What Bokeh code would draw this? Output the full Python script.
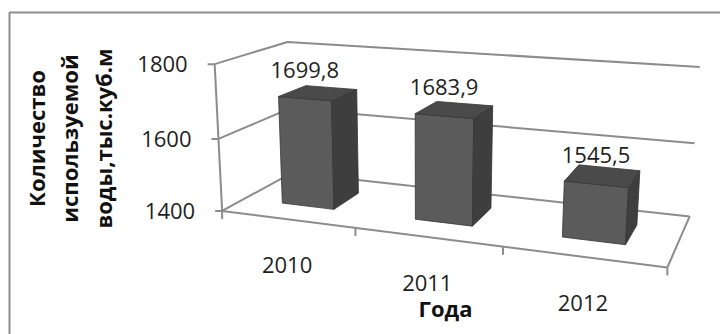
import numpy as np
from bokeh.plotting import figure
from bokeh.models import Range1d
from bokeh.core.properties import value
from bokeh.embed import file_html
from bokeh.resources import INLINE

# ---- data -------------------------------------------------------------
years = ["2010", "2011", "2012"]
water_use = [1699.8, 1683.9, 1545.5]
value_ticks = [1400, 1600, 1800]
value_min, value_max = 1400, 1800
y_title_lines = ["Количество", "используемой", "воды,тыс.куб.м"]
x_title = "Года"

# ---- layout -----------------------------------------------------------
W, H = 720, 334
FONT = "Open Sans"
GRID = "#8c8c8c"

# 3-D plot box: x = category slot (0..3), y = value fraction (0..1),
# z = depth (0 front .. 1 back).  Anchors of the box on the canvas (px, y down).
box_world = [(0, 0, 0), (0, 1, 0), (0, 1, 1), (3, 1, 1), (3, 0, 1),
             (3, 0, 0), (0, 0.5, 0), (1, 0, 0), (2, 0, 0), (3, 0.5, 1),
             (0, 0, 1)]
box_canvas = [(222, 211), (214, 63), (287, 43), (698, 66), (688, 216),
              (666, 266), (218, 137), (355, 229), (503, 247), (697, 143),
              (291, 171)]

# bar footprint inside a category slot / inside the depth
BAR_X0, BAR_X1 = 0.3, 0.7
BAR_Z0, BAR_Z1 = 0.3, 0.7


def fit_camera(world, canvas):
    """Projective 3x4 camera (DLT) taking box space to canvas pixels."""
    w = np.asarray(world, float)
    c = np.asarray(canvas, float)
    mean = c.mean(0)
    scale = 1.0 / c.std()
    cn = (c - mean) * scale
    rows = []
    for (X, Y, Z), (u, v) in zip(w, cn):
        h = [X, Y, Z, 1.0]
        rows.append(h + [0.0] * 4 + [-u * t for t in h])
        rows.append([0.0] * 4 + h + [-v * t for t in h])
    _, _, vt = np.linalg.svd(np.array(rows))
    P = vt[-1].reshape(3, 4)
    T = np.array([[1 / scale, 0, mean[0]], [0, 1 / scale, mean[1]], [0, 0, 1]])
    return T @ P


CAM = fit_camera(box_world, box_canvas)


def project(pts):
    pts = np.asarray(pts, float)
    h = np.c_[pts, np.ones(len(pts))] @ CAM.T
    return list(h[:, 0] / h[:, 2]), list(h[:, 1] / h[:, 2])


def frac(v):
    return (v - value_min) / (value_max - value_min)


n = len(years)

p = figure(width=W, height=H, x_range=Range1d(0, W), y_range=Range1d(H, 0),
           output_backend="svg", toolbar_location=None,
           x_axis_type=None, y_axis_type=None, min_border=0)
p.grid.visible = False
p.outline_line_color = None
p.background_fill_color = "white"
p.border_fill_color = "white"

# chart area border (left and top edges fall inside the canvas)
p.line([9, 9, W + 5], [H + 5, 12, 12], line_color="#8e8e8e", line_width=2)

# walls and floor
xs, ys = [], []
for t in value_ticks:
    f = frac(t)
    a, b = project([(0, f, 0), (0, f, 1), (n, f, 1)])
    xs.append(a); ys.append(b)
for seg in ([(0, 0, 0), (0, 1, 0)],          # value axis
            [(0, 0, 0), (n, 0, 0)],          # category axis
            [(n, 0, 0), (n, 0, 1)]):         # right floor edge
    a, b = project(seg)
    xs.append(a); ys.append(b)

# tick marks
for t in value_ticks:
    a, b = project([(0, frac(t), 0)])
    xs.append([a[0] - 7, a[0]]); ys.append([b[0], b[0]])
for i in range(n + 1):
    a, b = project([(i, 0, 0)])
    xs.append([a[0], a[0]]); ys.append([b[0], b[0] + 8])
p.multi_line(xs, ys, line_color=GRID, line_width=2)

# bars: front, right side and top faces
fx, fy, fc = [], [], []
for i, v in enumerate(water_use):
    x0, x1 = i + BAR_X0, i + BAR_X1
    top = frac(v)
    faces = [
        ([(x0, 0, BAR_Z0), (x1, 0, BAR_Z0), (x1, top, BAR_Z0), (x0, top, BAR_Z0)], "#5b5b5b"),
        ([(x1, 0, BAR_Z0), (x1, 0, BAR_Z1), (x1, top, BAR_Z1), (x1, top, BAR_Z0)], "#3e3e3e"),
        ([(x0, top, BAR_Z0), (x1, top, BAR_Z0), (x1, top, BAR_Z1), (x0, top, BAR_Z1)], "#4a4a4a"),
    ]
    for pts, col in faces:
        a, b = project(pts)
        fx.append(a); fy.append(b); fc.append(col)
p.patches(fx, fy, fill_color=fc, line_color="#353535", line_width=0.8)

# value labels above bars
lx, ly, lt = [], [], []
for i, v in enumerate(water_use):
    a, b = project([(i + 0.5, frac(v), BAR_Z0)])
    lx.append(a[0]); ly.append(b[0]); lt.append(f"{v:.1f}".replace(".", ","))
p.text(lx, ly, text=lt, text_font=value(FONT), text_font_size="22px",
       text_color="#1e1e1e", text_align="center", text_baseline="middle",
       y_offset=-29)

# value axis labels
tx, ty = [], []
for t in value_ticks:
    a, b = project([(0, frac(t), 0)])
    tx.append(a[0]); ty.append(b[0])
p.text(tx, ty, text=[str(t) for t in value_ticks], text_font=value(FONT),
       text_font_size="22px", text_color="#1e1e1e", text_align="right",
       text_baseline="middle", x_offset=-27)

# category labels
cx, cy = [], []
for i in range(n):
    a, b = project([(i + 0.5, 0, 0)])
    cx.append(a[0]); cy.append(b[0])
p.text(cx, cy, text=years, text_font=value(FONT), text_font_size="22px",
       text_color="#1e1e1e", text_align="center", text_baseline="middle",
       y_offset=46)

# axis titles
p.text([445], [307], text=[x_title], text_font=value(FONT),
       text_font_size="22px", text_font_style="bold", text_color="#111111",
       text_align="center", text_baseline="middle")
p.text([35, 68, 102], [138, 138, 138], text=y_title_lines,
       text_font=value(FONT), text_font_size="22px", text_font_style="bold",
       text_color="#111111", text_align="center", text_baseline="middle",
       angle=np.pi / 2)

open("out.html", "w").write(file_html(p, INLINE))
